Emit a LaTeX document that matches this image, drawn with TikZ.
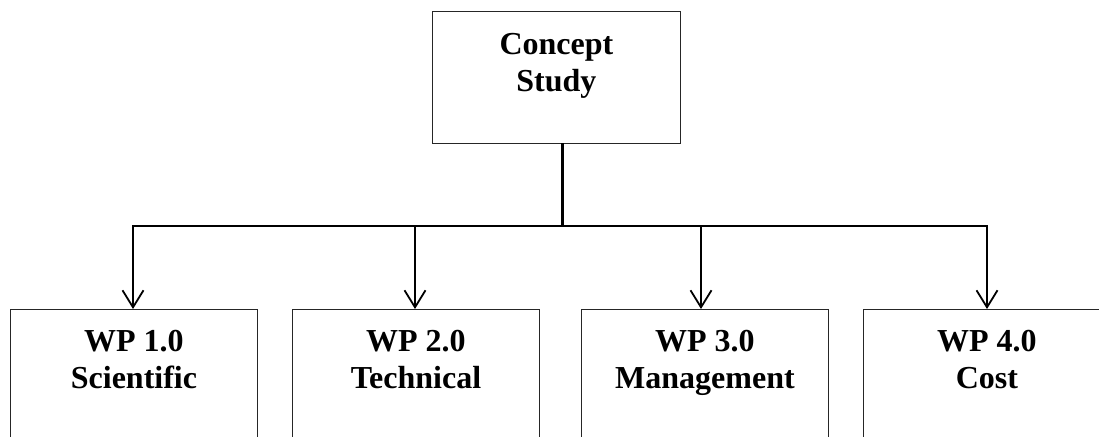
\documentclass[tikz,border=0pt]{standalone}
\usepackage{fontspec}
\setmainfont{Liberation Serif}
\usetikzlibrary{arrows.meta}
\begin{document}
\begin{tikzpicture}[x=1pt,y=-1pt,
  boxshape/.style={draw=black!85, line width=0.9pt, rectangle, inner sep=0pt, anchor=north west},
  boxlabel/.style={anchor=north, align=center, inner sep=0pt, font=\fontsize{32}{37}\selectfont\bfseries},
  drop/.style={line width=1.8pt, -{Straight Barb[length=17pt,width=21pt,line width=1.8pt]}},
  bus/.style={line width=2pt}
]
\clip (0,0) rectangle (1099,436);
\useasboundingbox (0,0) rectangle (1099,436);
% top box
\node[boxshape, minimum width=248pt, minimum height=132pt] (cs) at (432,11) {};
\node[boxlabel] (csl) at ([yshift=-22pt]cs.north) {Concept\\Study};
% bottom boxes
\node[boxshape, minimum width=247pt, minimum height=160pt] (b1) at (10,309) {};
\node[boxshape, minimum width=247pt, minimum height=160pt] (b2) at (292,309) {};
\node[boxshape, minimum width=247pt, minimum height=160pt] (b3) at (581,309) {};
\node[boxshape, minimum width=247pt, minimum height=160pt] (b4) at (863,309) {};
\node[boxlabel] (l1) at ([yshift=-21pt]b1.north) {WP 1.0\\Scientific};
\node[boxlabel] (l2) at ([yshift=-21pt]b2.north) {WP 2.0\\Technical};
\node[boxlabel] (l3) at ([yshift=-21pt]b3.north) {WP 3.0\\Management};
\node[boxlabel] (l4) at ([yshift=-21pt]b4.north) {WP 4.0\\Cost};
% connectors
\coordinate (tb) at (562,143);
\coordinate (tj) at (562,226);
\coordinate (j1) at (133,226);
\coordinate (j2) at (415,226);
\coordinate (j3) at (701,226);
\coordinate (j4) at (987,226);
\draw[line width=3pt] (tb) -- (tj);
\draw[bus] ([xshift=-0.9pt]j1) -- ([xshift=0.9pt]j4);
\draw[drop] ([yshift=-1pt]j1) -- (j1 |- b1.north);
\draw[drop] (j2) -- (j2 |- b2.north);
\draw[drop] (j3) -- (j3 |- b3.north);
\draw[drop] ([yshift=-1pt]j4) -- (j4 |- b4.north);
\end{tikzpicture}
\end{document}
